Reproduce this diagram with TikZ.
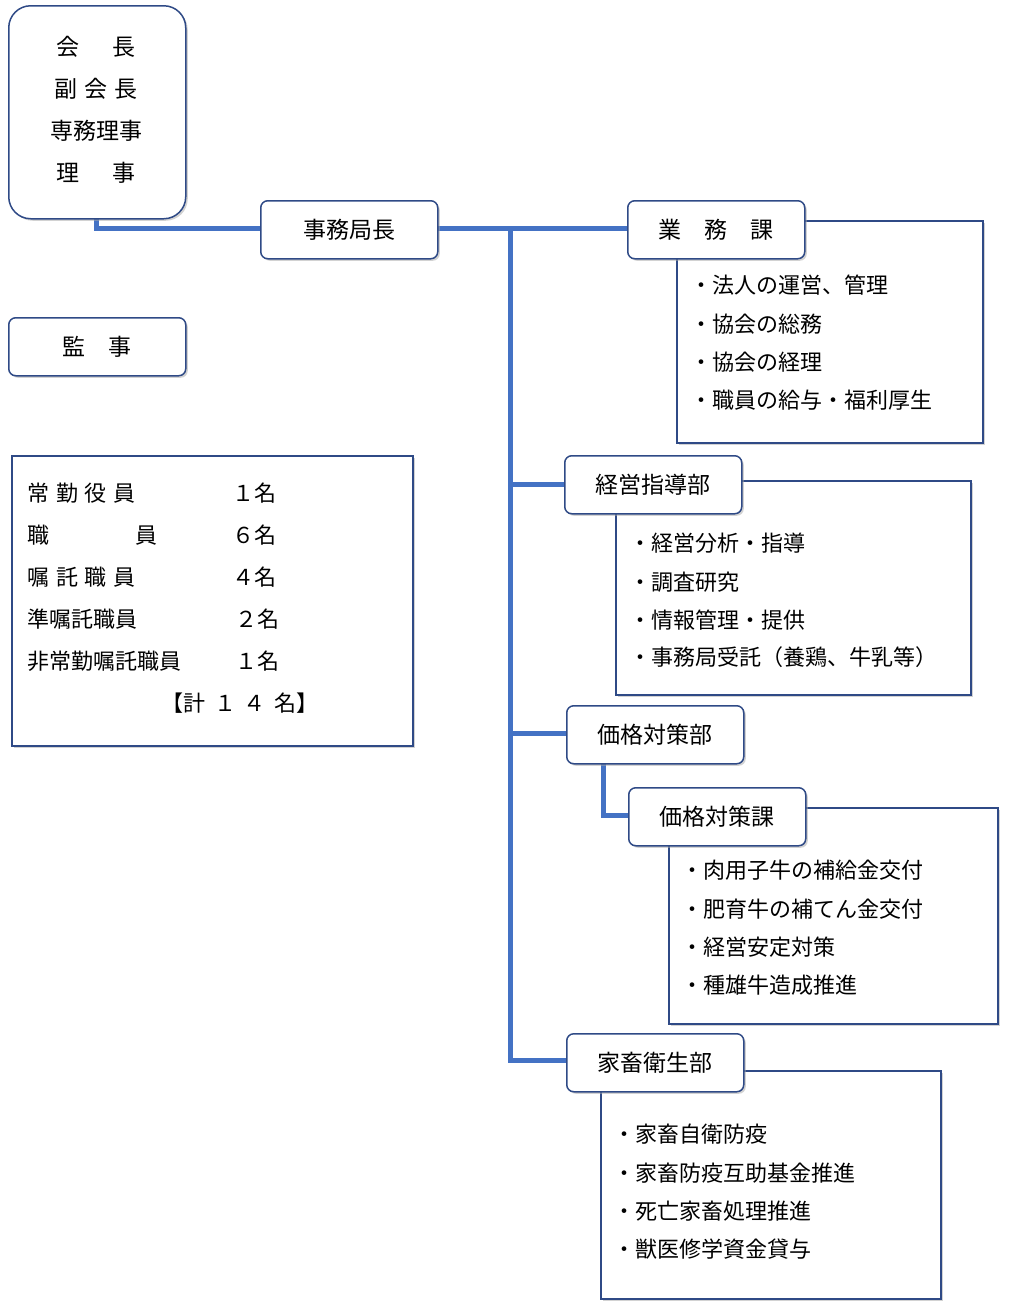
\documentclass[tikz,border=0pt]{standalone}
\usepackage{fontspec}
\setmainfont{Noto Sans CJK JP}
\usetikzlibrary{shadows}
\definecolor{edge}{HTML}{2F4A86}
\definecolor{trunk}{HTML}{4472C4}
\begin{document}
\begin{tikzpicture}[x=1pt,y=-1pt,
  head/.style={draw=edge, line width=1.5pt, fill=white, rounded corners=7pt, minimum width=177pt, minimum height=58pt, anchor=north west, font=\fontsize{23}{26}\selectfont, drop shadow={shadow xshift=2pt, shadow yshift=-2pt, fill=black!35}},
  desc/.style={draw=edge, line width=1.5pt, fill=white, anchor=north west, drop shadow={shadow xshift=2pt, shadow yshift=-2pt, fill=black!35}},
  item/.style={anchor=west, font=\fontsize{22}{25}\selectfont},
  link/.style={draw=trunk, line width=5pt}
]
\useasboundingbox (0,0) rectangle (1011,1312);
% description boxes
\node[desc, minimum width=306pt, minimum height=222pt] (d1) at (676,220) {};
\node[desc, minimum width=355pt, minimum height=214pt] (d2) at (615,480) {};
\node[desc, minimum width=329pt, minimum height=216pt] (d3) at (668,807) {};
\node[desc, minimum width=340pt, minimum height=228pt] (d4) at (600,1070) {};
% connectors
\coordinate (j0) at (510,228);
\coordinate (j1) at (510,484);
\coordinate (j2) at (510,733);
\coordinate (j3) at (510,1060);
\draw[link] (96,216) |- (260,228);
\draw[link] (437,228) -- (627,228);
\draw[link] (j0) -- (j3) -- (566,1060);
\draw[link] (j1) -- (564,484);
\draw[link] (j2) -- (566,733);
\draw[link] (603,761) |- (628,815);
% heads
\node[head, minimum height=213pt, rounded corners=22pt] (kaicho) at (8,5) {};
\node[font=\fontsize{23}{26}\selectfont] at (96,47) {会\hspace{1.4em}長};
\node[font=\fontsize{23}{26}\selectfont] at (96,89) {副\hspace{0.3em}会\hspace{0.3em}長};
\node[font=\fontsize{23}{26}\selectfont] at (96,131) {専務理事};
\node[font=\fontsize{23}{26}\selectfont] at (96,173) {理\hspace{1.4em}事};
\node[head] (kyokucho) at (260,200) {事務局長};
\node[head] (gyomu) at (627,200) {業\hspace{1em}務\hspace{1em}課};
\node[head] (kanji) at (8,317) {監\hspace{1em}事};
\node[head] (keiei) at (564,455) {経営指導部};
\node[head] (kakaku) at (566,705) {価格対策部};
\node[head] (kakakuka) at (628,787) {価格対策課};
\node[head] (kachiku) at (566,1033) {家畜衛生部};
% staff box
\node[desc, minimum width=401pt, minimum height=290pt] (staff) at (11,455) {};
\foreach \y/\a in {493/常\hspace{0.3em}勤\hspace{0.3em}役\hspace{0.3em}員, 535/職\hspace{3.9em}員, 577/嘱\hspace{0.3em}託\hspace{0.3em}職\hspace{0.3em}員, 619/準嘱託職員, 661/非常勤嘱託職員}
  \node[item, font=\fontsize{22}{25}\selectfont] at (24,\y) {\a};
\foreach \y/\x/\b in {493/229/１名, 535/229/６名, 577/229/４名, 619/232/２名, 661/232/１名}
  \node[item, font=\fontsize{22}{25}\selectfont] at (\x,\y) {\b};
\node[font=\fontsize{22}{25}\selectfont] at (240,703) {【計\hspace{0.4em}１\hspace{0.3em}４\hspace{0.4em}名】};
% items
\foreach \y/\t in {285/法人の運営、管理, 324/協会の総務, 362/協会の経理, 400/職員の給与・福利厚生}
  \node[item] at (687,\y) {・\t};
\foreach \y/\t in {543/経営分析・指導, 582/調査研究, 620/情報管理・提供, 657/事務局受託（養鶏、牛乳等）}
  \node[item] at (626,\y) {・\t};
\foreach \y/\t in {870/肉用子牛の補給金交付, 909/肥育牛の補てん金交付, 947/経営安定対策, 985/種雄牛造成推進}
  \node[item] at (678,\y) {・\t};
\foreach \y/\t in {1134/家畜自衛防疫, 1173/家畜防疫互助基金推進, 1211/死亡家畜処理推進, 1249/獣医修学資金貸与}
  \node[item] at (610,\y) {・\t};
\end{tikzpicture}
\end{document}
